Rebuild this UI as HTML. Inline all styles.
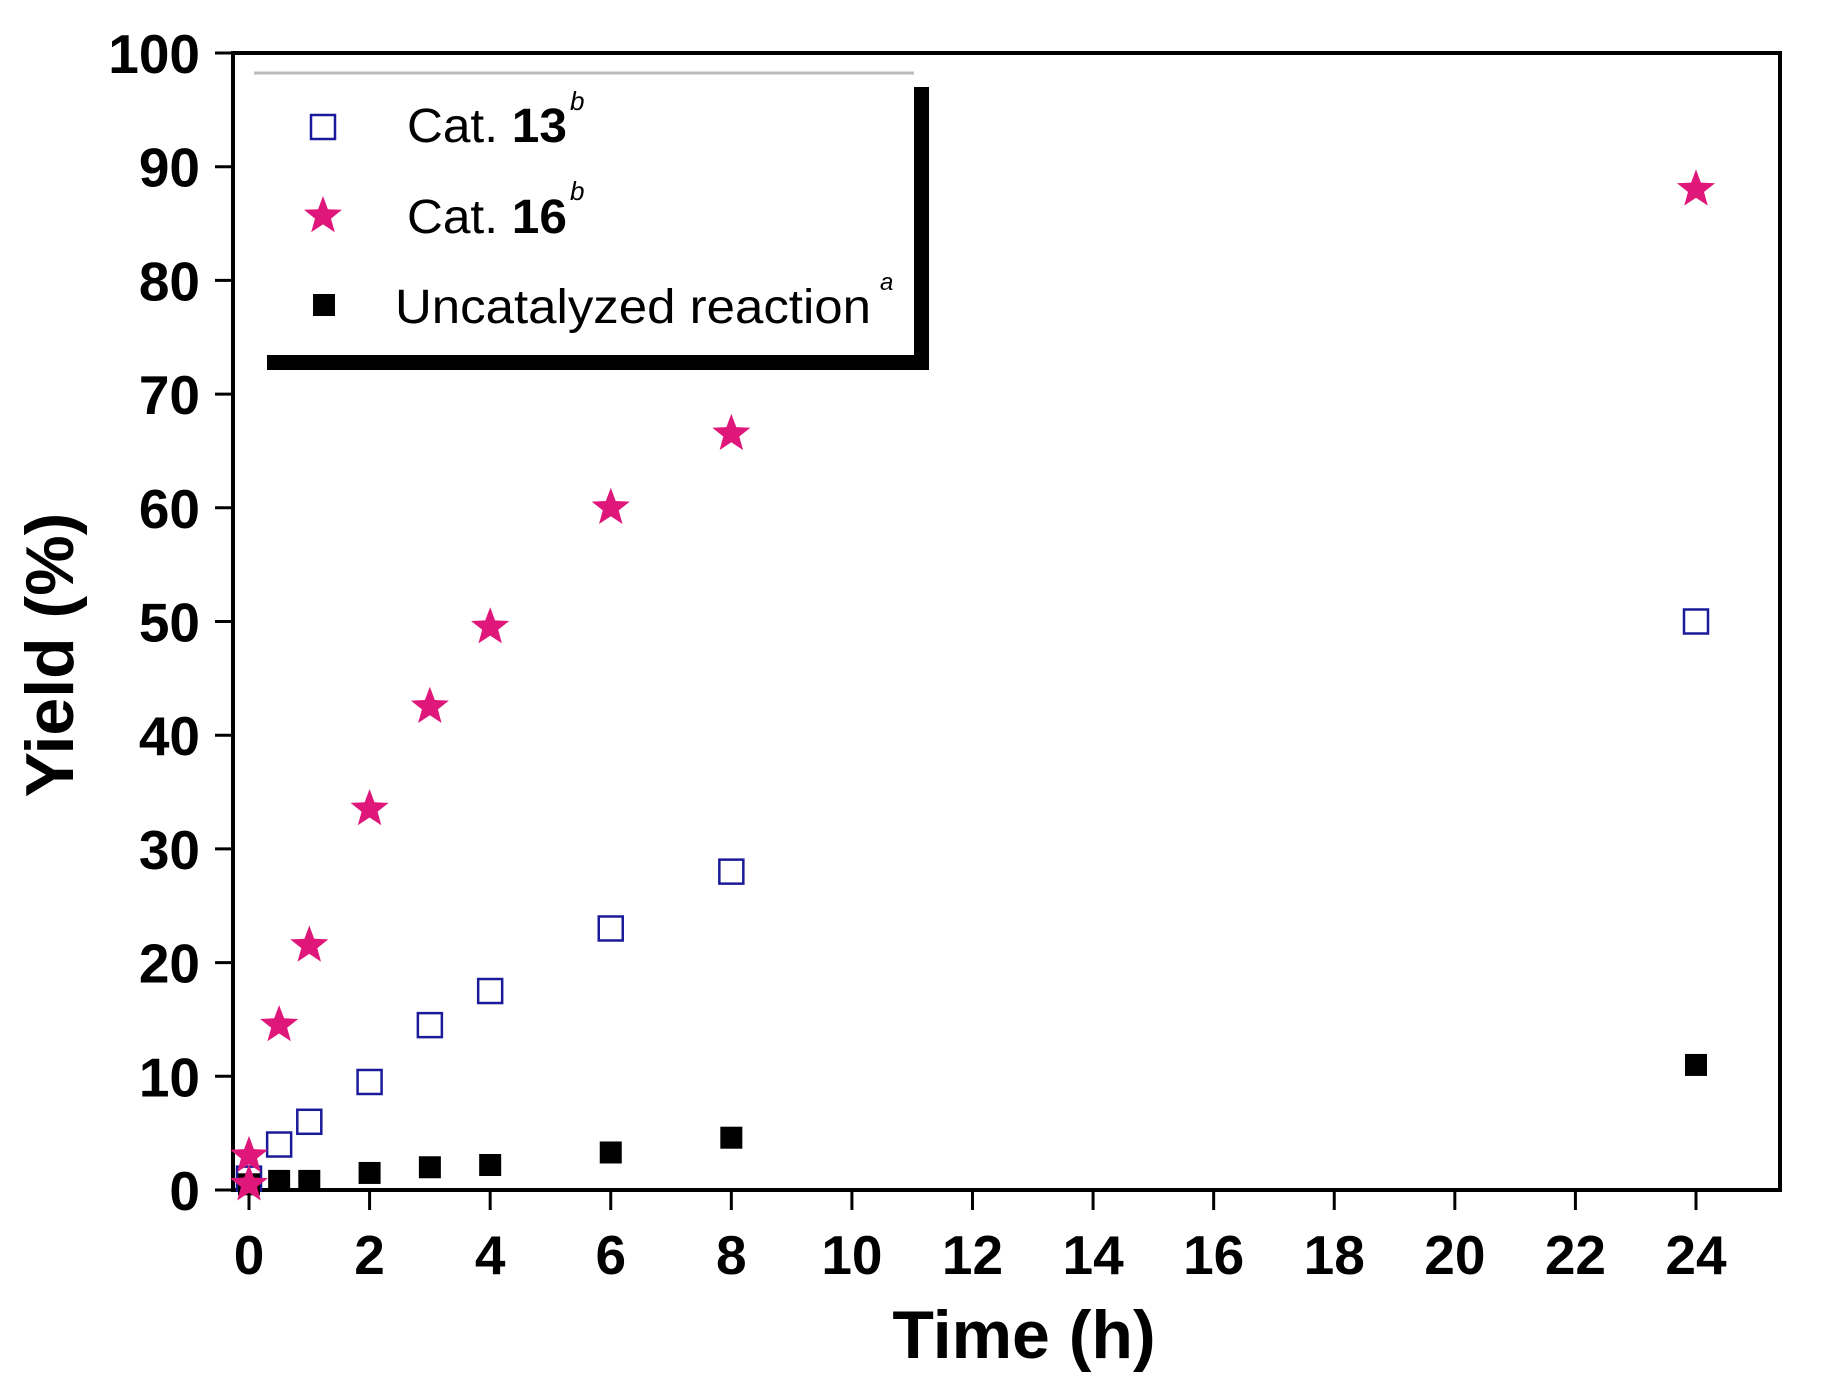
<!DOCTYPE html>
<html><head><meta charset="utf-8"><style>
html,body{margin:0;padding:0;background:#fff;}
svg{display:block;}
text{font-family:"Liberation Sans",sans-serif;}
</style></head><body>
<svg id="chart" width="1829" height="1389" viewBox="0 0 1829 1389" xmlns="http://www.w3.org/2000/svg">
<g id="axes"></g>
<g id="marks"></g>
<g id="legend">
  <line x1="254" y1="73" x2="914" y2="73" stroke="#bbb" stroke-width="3"/>
  <rect x="914" y="87" width="15" height="283" fill="#000"/>
  <rect x="267" y="355" width="662" height="15" fill="#000"/>
  <rect x="311" y="115" width="24" height="24" fill="none" stroke="#1a1a9a" stroke-width="2.5"/>
  <text x="407" y="142" font-size="48" textLength="160" lengthAdjust="spacingAndGlyphs">Cat. <tspan font-weight="bold">13</tspan></text>
  <text x="570" y="110" font-size="26" font-style="italic">b</text>
  <polygon id="legstar" fill="#e0177a"/>
  <text x="407" y="233" font-size="48" textLength="160" lengthAdjust="spacingAndGlyphs">Cat. <tspan font-weight="bold">16</tspan></text>
  <text x="570" y="200" font-size="26" font-style="italic">b</text>
  <rect x="313" y="294" width="22" height="22" fill="#000"/>
  <text x="395" y="323" font-size="48" textLength="476" lengthAdjust="spacingAndGlyphs">Uncatalyzed reaction</text>
  <text x="880" y="290" font-size="24" font-style="italic">a</text>
</g>
</svg>
<script>
const xTicks = [0,2,4,6,8,10,12,14,16,18,20,22,24];
const yTicks = [0,10,20,30,40,50,60,70,80,90,100];
const time13 = [0,0.5,1,2,3,4,6,8,24];
const cat13 = [1,4,6,9.5,14.5,17.5,23,28,50];
const time16 = [0,0,0.5,1,2,3,4,6,8,24];
const cat16 = [0.5,3,14.5,21.5,33.5,42.5,49.5,60,66.5,88];
const timeU = [0,0.5,1,2,3,4,6,8,24];
const uncat = [0.5,0.8,0.8,1.5,2,2.2,3.3,4.6,11];

const NS = "http://www.w3.org/2000/svg";
const X = t => 249 + t * (1696 - 249) / 24;
const Y = v => 1190 - v * (1190 - 53) / 100;
function mk(tag, attrs, parent){const e=document.createElementNS(NS,tag);for(const k in attrs)e.setAttribute(k,attrs[k]);parent.appendChild(e);return e;}
function starPts(cx,cy,R){const r=R*0.42;let p=[];for(let i=0;i<10;i++){const a=-Math.PI/2+i*Math.PI/5;const rr=i%2?r:R;p.push((cx+rr*Math.cos(a)).toFixed(1)+","+(cy+rr*Math.sin(a)).toFixed(1));}return p.join(" ");}
document.getElementById('legstar').setAttribute('points', starPts(323,216,20));

const axes = document.getElementById('axes');
const frame = mk('rect',{x:233,y:53,width:1547,height:1137,fill:'none',stroke:'#000','stroke-width':4},axes);


yTicks.forEach(v=>{
  const l = mk('line',{x1:215,x2:233,y1:Y(v),y2:Y(v),stroke:'#000','stroke-width':3},axes);
  
  
  const t = mk('text',{x:200,y:Y(v)+20,'text-anchor':'end','font-size':55,'font-weight':'bold'},axes);
  
  
  t.textContent = v;
});
xTicks.forEach(v=>{
  const l = mk('line',{x1:X(v),x2:X(v),y1:1190,y2:1210,stroke:'#000','stroke-width':3},axes);
  
  
  const t = mk('text',{x:X(v),y:1274,'text-anchor':'middle','font-size':55,'font-weight':'bold'},axes);
  
  
  t.textContent = v;
});
const xt = mk('text',{x:1024,y:1358,'text-anchor':'middle','font-size':68,'font-weight':'bold'},axes);


xt.textContent = 'Time (h)';
const yt = mk('text',{x:0,y:0,'text-anchor':'middle','font-size':68,'font-weight':'bold',transform:'translate(73,655) rotate(-90)'},axes);


yt.textContent = 'Yield (%)';

const marks = document.getElementById('marks');
time13.forEach((t,i)=>{
  const r = mk('rect',{x:X(t)-12,y:Y(cat13[i])-12,width:24,height:24,fill:'none',stroke:'#1a1a9a','stroke-width':2.5},marks);
  
  
});
timeU.forEach((t,i)=>{
  const r = mk('rect',{x:X(t)-11,y:Y(uncat[i])-11,width:22,height:22,fill:'#000'},marks);
  
  
});
time16.forEach((t,i)=>{
  const s = mk('polygon',{points:starPts(X(t),Y(cat16[i]),20),fill:'#e0177a'},marks);
  
  
});
</script>
</body></html>
